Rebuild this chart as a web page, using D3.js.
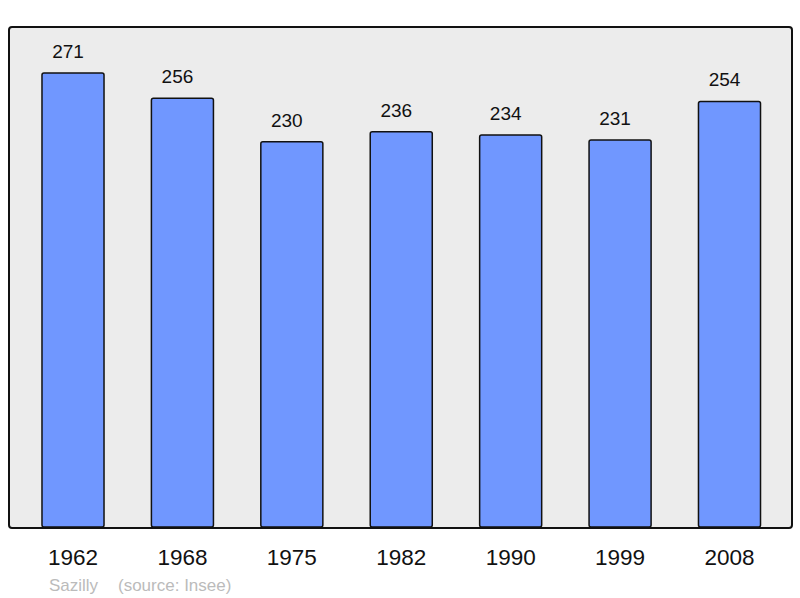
<!DOCTYPE html>
<html><head><meta charset="utf-8">
<script src="https://cdn.jsdelivr.net/npm/d3@7"></script>
<style>html,body{margin:0;padding:0;background:#fff}svg{display:block}</style>
</head><body>
<script>
const years = ["1962","1968","1975","1982","1990","1999","2008"];
const population = [271,256,230,236,234,231,254];

const W = 800, H = 598;
const font = "Liberation Sans, Arial, sans-serif";
const svg = d3.select("body").append("svg").attr("width", W).attr("height", H);

svg.append("rect").attr("x",9).attr("y",27).attr("width",783).attr("height",501)
  .attr("rx",3).attr("fill","#ececec").attr("stroke","#111").attr("stroke-width",2);

const x = d3.scaleBand().domain(years).range([18.3, 784.2]).paddingInner(0.433).paddingOuter(0.2165);
const y = d3.scaleLinear().domain([0, 271]).range([527, 73]);

svg.selectAll("rect.bar").data(years).join("rect").attr("class","bar")
  .attr("x", d => x(d)).attr("width", x.bandwidth())
  .attr("y", (d,i) => y(population[i])).attr("height", (d,i) => y(0) - y(population[i]))
  .attr("rx",2).attr("fill","#7097ff").attr("stroke","#111").attr("stroke-width",1.5);

svg.selectAll("text.val").data(years).join("text").attr("class","val")
  .attr("x", d => x(d) + x.bandwidth()/2 - 5).attr("y", (d,i) => y(population[i]) - 15)
  .attr("text-anchor","middle").attr("font-family",font)
  .attr("font-size",19).attr("fill","#111").text((d,i) => population[i]);

svg.selectAll("text.year").data(years).join("text").attr("class","year")
  .attr("x", d => x(d) + x.bandwidth()/2).attr("y", 565)
  .attr("text-anchor","middle").attr("font-family",font)
  .attr("font-size",22.5).attr("fill","#111").text(d => d);

svg.append("text").attr("x",49).attr("y",591).attr("font-family",font)
  .attr("font-size",17).attr("fill","#bbb").text("Sazilly");
svg.append("text").attr("x",118).attr("y",591).attr("font-family",font)
  .attr("font-size",17).attr("fill","#bbb").text("(source: Insee)");
</script>
</body></html>
